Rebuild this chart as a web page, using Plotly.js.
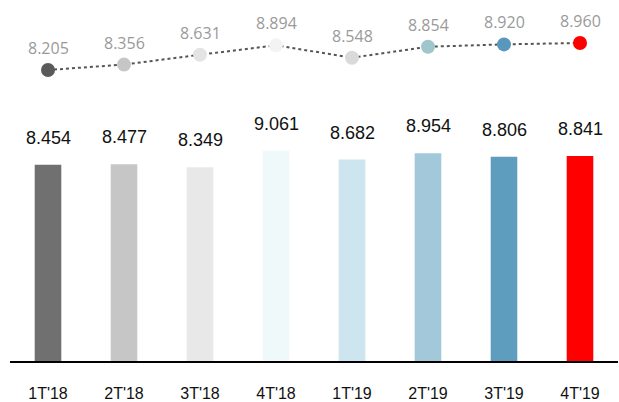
<!DOCTYPE html>
<html><head><meta charset="utf-8">
<script src="https://cdn.plot.ly/plotly-3.0.1.min.js"></script>
<style>html,body{margin:0;padding:0;background:#fff}#chart{width:619px;height:402px}</style>
</head><body><div id="chart"></div>
<script>
const categories = ["1T'18","2T'18","3T'18","4T'18","1T'19","2T'19","3T'19","4T'19"];
const barValues = [8.454, 8.477, 8.349, 9.061, 8.682, 8.954, 8.806, 8.841];
const lineValues = [8.205, 8.356, 8.631, 8.894, 8.548, 8.854, 8.920, 8.960];
const barColors = ["#707070","#c6c6c6","#e8e8e8","#f0f9fa","#cce5ee","#a3c8da","#5e9dbd","#ff0000"];
const markerColors = ["#5a5a5a","#c6c6c6","#e4e4e4","#f3f3f3","#dadada","#9fc6cb","#5a97bd","#ff0000"];

const fmt = v => v.toFixed(3);

const traces = [
  {type:'bar', x:categories, y:barValues, marker:{color:barColors}, hoverinfo:'none', width:0.35},
  {type:'scatter', mode:'lines+markers', x:categories, y:lineValues, yaxis:'y2',
   line:{color:'#555555', width:2, dash:'dot'},
   marker:{color:markerColors, size:14}, hoverinfo:'none'}
];

const annotations = [];
categories.forEach((c,i)=>{
  annotations.push({x:c, y:barValues[i], xref:'x', yref:'y', text:fmt(barValues[i]), showarrow:false,
    yshift:27, font:{family:'Liberation Sans', size:18, color:'#111'}});
  annotations.push({x:c, y:lineValues[i], xref:'x', yref:'y2', text:fmt(lineValues[i]), showarrow:false,
    yshift:22, font:{family:'Open Sans', size:16, color:'#9a9a9a'}});
});

const layout = {
  width:619, height:402,
  margin:{l:10, r:1, t:0, b:41},
  paper_bgcolor:'#fff', plot_bgcolor:'#fff',
  showlegend:false,
  xaxis:{type:'category', range:[-0.5,7.5], showgrid:false, zeroline:false,
    showline:true, linecolor:'#000', linewidth:2,
    ticks:'', ticklabelstandoff:17,
    tickfont:{family:'Liberation Sans', size:16, color:'#111'}},
  yaxis:{range:[0,15.56], visible:false, showgrid:false, zeroline:false},
  yaxis2:{range:[0.077,10.16], overlaying:'y', visible:false, showgrid:false, zeroline:false},
  annotations:annotations
};
Plotly.newPlot('chart', traces, layout, {staticPlot:true, displayModeBar:false});
</script></body></html>
